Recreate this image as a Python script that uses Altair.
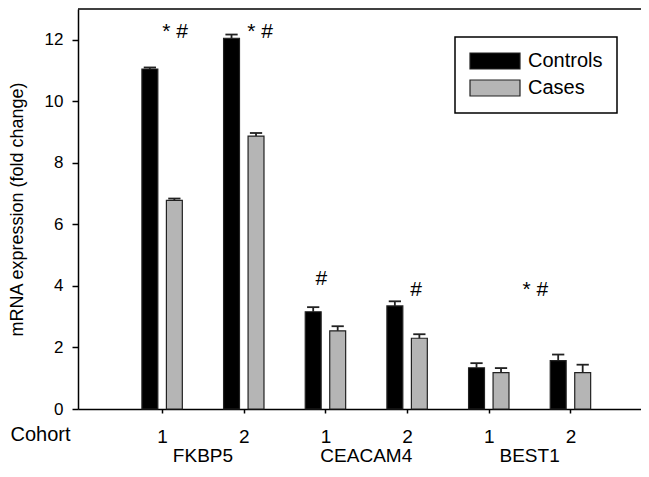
import altair as alt
import pandas as pd

FONT = "Liberation Sans"

# ---- data ----
genes = ["FKBP5", "CEACAM4", "BEST1"]
gene_centers = [1.5, 3.5, 5.5]
positions = [1, 2, 3, 4, 5, 6]
cohorts = ["1", "2", "1", "2", "1", "2"]
series_names = ["Controls", "Cases"]
controls = [11.05, 12.05, 3.16, 3.35, 1.34, 1.57]
controls_err = [0.05, 0.12, 0.15, 0.15, 0.15, 0.20]
cases = [6.78, 8.87, 2.54, 2.30, 1.18, 1.18]
cases_err = [0.06, 0.10, 0.15, 0.13, 0.15, 0.26]
ann_text = ["* #", "* #", "#", "#", "* #"]
ann_x = [1.16, 2.20, 2.95, 4.11, 5.57]
ann_y = [12.26, 12.26, 4.21, 3.88, 3.88]

# ---- style ----
W, H = 563, 400
OFF = {"Controls": -0.15, "Cases": 0.15}
BAR_W = 0.195
CAP_W = 0.15

rows = []
for i, p in enumerate(positions):
    rows.append(dict(pos=p, series="Controls", value=controls[i], err=controls_err[i]))
    rows.append(dict(pos=p, series="Cases", value=cases[i], err=cases_err[i]))
df = pd.DataFrame(rows)
df["center"] = df["pos"] + df["series"].map(OFF)
df["x0"] = df["center"] - BAR_W / 2
df["x1"] = df["center"] + BAR_W / 2
df["c0"] = df["center"] - CAP_W / 2
df["c1"] = df["center"] + CAP_W / 2
df["top"] = df["value"] + df["err"]

ann_df = pd.DataFrame({"t": ann_text, "ax": ann_x, "ay": ann_y})
gene_df = pd.DataFrame({"g": genes, "gx": gene_centers})

xscale = alt.Scale(domain=[-0.03, 6.864], nice=False, zero=False)
yscale = alt.Scale(domain=[0, 13], nice=False)

xaxis = alt.Axis(
    values=positions,
    labelExpr="datum.value % 2 == 1 ? '1' : '2'",
    title="Cohort", titleX=-38, titleY=25, titleAlign="center", titleBaseline="middle",
    titleFontSize=20, titleFontWeight="normal",
    labelFontSize=19, tickSize=4, labelPadding=14, labelFlush=False,
    grid=False,
)
yaxis = alt.Axis(
    values=[0, 2, 4, 6, 8, 10, 12],
    title="mRNA expression (fold change)", titleFontSize=18, titleFontWeight="normal",
    titleX=-52, titleAngle=270, titleBaseline="bottom",
    labelFontSize=17, tickSize=6, labelPadding=9, grid=False,
)

legend = alt.Legend(
    title=None, orient="none", legendX=377, legendY=28, direction="vertical",
    symbolType="M-3.125,-1H3.125V1H-3.125Z", symbolSize=256,
    symbolStrokeColor="#222222", symbolStrokeWidth=1.2, symbolOffset=16,
    labelOffset=23, labelFontSize=20, labelFont=FONT, labelColor="black",
    rowPadding=5, padding=14, strokeColor="black", fillColor="white",
)

bars = alt.Chart(df).mark_bar(stroke="#222222", strokeWidth=1.2).encode(
    x=alt.X("x0:Q", scale=xscale, axis=xaxis),
    x2="x1:Q",
    y=alt.Y("value:Q", scale=yscale, axis=yaxis),
    y2=alt.datum(0),
    color=alt.Color("series:N", scale=alt.Scale(domain=series_names, range=["#000000", "#b5b5b5"]),
                    legend=legend),
)

err = alt.Chart(df).mark_rule(color="#222222", strokeWidth=1.8).encode(
    x=alt.X("center:Q", scale=xscale, axis=xaxis),
    y=alt.Y("value:Q", scale=yscale, axis=yaxis),
    y2="top:Q",
)

caps = alt.Chart(df).mark_rule(color="#222222", strokeWidth=1.8).encode(
    x=alt.X("c0:Q", scale=xscale, axis=xaxis),
    x2="c1:Q",
    y=alt.Y("top:Q", scale=yscale, axis=yaxis),
)

ann = alt.Chart(ann_df).mark_text(font=FONT, fontSize=21, color="black", baseline="middle", align="center").encode(
    x=alt.X("ax:Q", scale=xscale, axis=xaxis),
    y=alt.Y("ay:Q", scale=yscale, axis=yaxis),
    text="t:N",
)

gene_labels = alt.Chart(gene_df).mark_text(font=FONT, fontSize=19, color="black", baseline="middle", align="center").encode(
    x=alt.X("gx:Q", scale=xscale, axis=xaxis),
    y=alt.value(447),
    text="g:N",
)

top_line = alt.Chart(pd.DataFrame({"a": [0]})).mark_rule(color="black", strokeWidth=1.5).encode(
    x=alt.value(0), x2=alt.value(W), y=alt.value(0),
)

chart = alt.layer(bars, err, caps, ann, gene_labels, top_line).properties(
    width=W, height=H,
    autosize=alt.AutoSizeParams(type="none"),
    padding={"left": 70, "top": 1, "right": 0, "bottom": 56},
    background="white",
).configure_view(stroke=None).configure_axis(
    labelFont=FONT, titleFont=FONT, labelColor="black", titleColor="black",
    domainColor="black", tickColor="black", domainWidth=1.5, tickWidth=1.5,
).configure_legend(strokeWidth=1.5)

chart.save("out.html", embed_options={"renderer": "svg", "actions": False})
